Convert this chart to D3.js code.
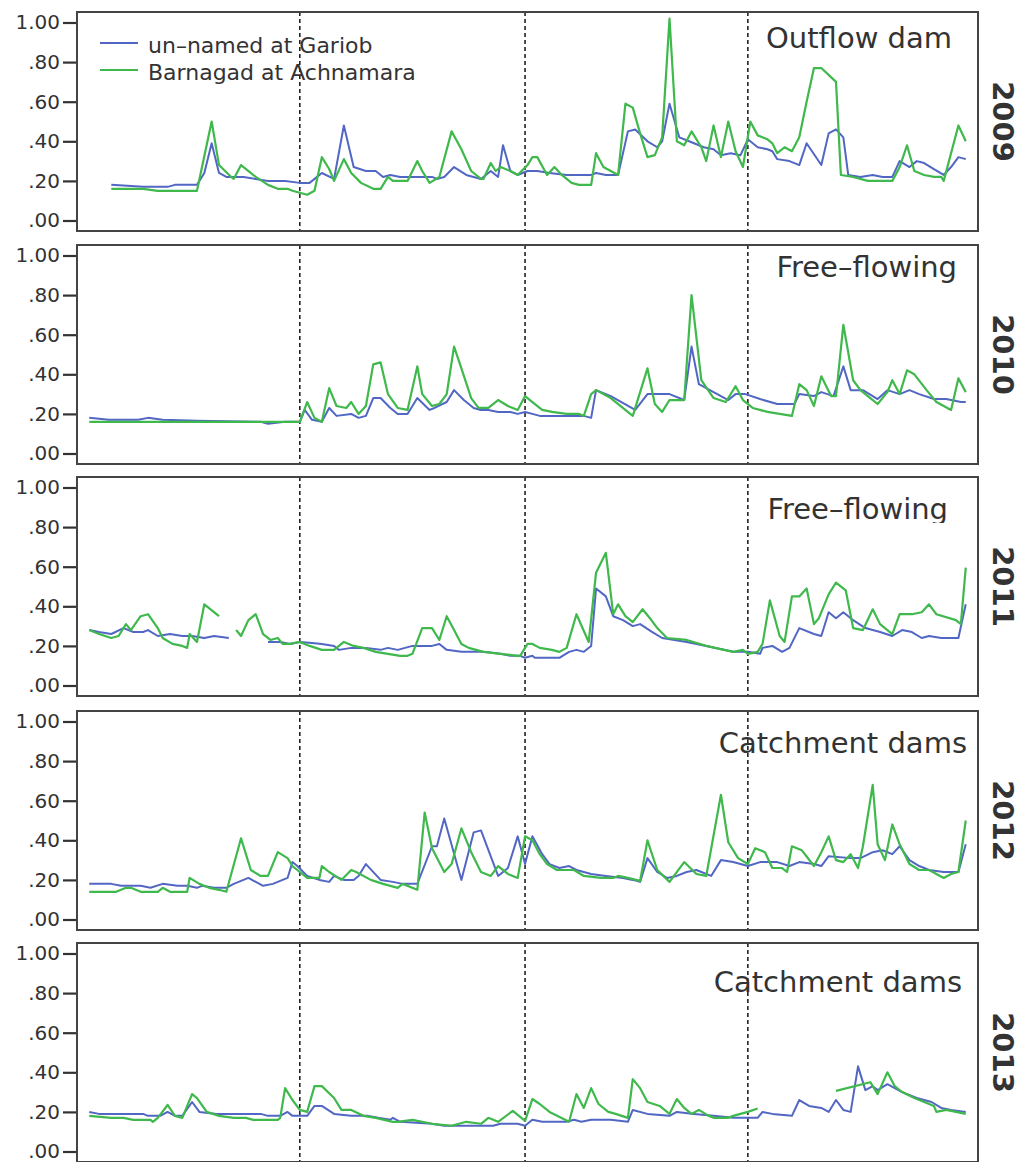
<!DOCTYPE html>
<html>
<head>
<meta charset="utf-8">
<script src="https://cdn.jsdelivr.net/npm/d3@7"></script>
<style>
  body { margin: 0; background: #fff; }
  svg { display: block; }
</style>
</head>
<body>
<svg id="chart" width="1028" height="1162"></svg>
<script>
// ---- data: day of year, relative value -----------------------------------
const years = ["2009", "2010", "2011", "2012", "2013"];
const panelTitles = ["Outflow dam", "Free\u2013flowing", "Free\u2013flowing", "Catchment dams", "Catchment dams"];
const seriesNames = ["un\u2013named at Gariob", "Barnagad at Achnamara"];
const yTicks = [0, 0.2, 0.4, 0.6, 0.8, 1.0];
const quarterDays = [91, 183, 274];

const gariob2009 = [[14,.18],[27,.17],[37,.17],[40,.18],[49,.18],[52,.24],[55,.39],[58,.24],[61,.22],[68,.22],[78,.20],[85,.20],[91,.19],[95,.19],[100,.24],[105,.21],[109,.48],[113,.27],[118,.25],[122,.25],[125,.22],[128,.23],[132,.22],[145,.22],[147,.21],[150,.22],[154,.27],[159,.23],[165,.21],[169,.25],[172,.22],[174,.38],[177,.25],[180,.23],[184,.25],[188,.25],[193,.24],[200,.23],[210,.23],[212,.24],[216,.23],[221,.23],[225,.45],[228,.46],[233,.40],[237,.37],[239,.40],[242,.59],[246,.42],[250,.40],[256,.37],[260,.36],[263,.33],[267,.34],[271,.33],[274,.41],[278,.37],[282,.36],[284,.35],[286,.31],[291,.30],[295,.28],[298,.39],[304,.28],[307,.44],[310,.46],[313,.42],[315,.23],[320,.22],[325,.23],[329,.22],[333,.22],[336,.30],[340,.27],[343,.30],[346,.29],[350,.26],[354,.23],[357,.27],[360,.32],[363,.31]];
const barnagad2009 = [[14,.16],[27,.16],[33,.15],[49,.15],[55,.50],[58,.28],[63,.22],[64,.21],[67,.28],[73,.22],[78,.18],[82,.16],[86,.16],[88,.15],[91,.14],[94,.13],[97,.15],[100,.32],[103,.26],[105,.20],[109,.31],[112,.24],[116,.19],[121,.16],[124,.16],[127,.22],[129,.20],[135,.20],[139,.30],[141,.25],[144,.19],[148,.22],[153,.45],[157,.36],[161,.25],[165,.21],[166,.21],[169,.29],[171,.25],[173,.27],[177,.25],[180,.23],[184,.28],[186,.32],[188,.32],[192,.23],[195,.27],[198,.23],[202,.19],[205,.18],[210,.18],[212,.34],[215,.27],[218,.25],[221,.23],[224,.59],[227,.57],[230,.44],[233,.32],[236,.33],[239,.42],[242,1.02],[245,.40],[248,.38],[251,.45],[255,.37],[257,.30],[260,.48],[263,.32],[266,.50],[269,.35],[272,.27],[275,.50],[278,.43],[282,.41],[284,.39],[286,.34],[289,.37],[292,.35],[295,.42],[298,.60],[301,.77],[304,.77],[310,.70],[312,.23],[317,.22],[323,.20],[333,.20],[336,.27],[339,.38],[342,.25],[346,.23],[350,.22],[353,.22],[354,.20],[360,.48],[363,.40]];

const gariob2010 = [[5,.18],[13,.17],[25,.17],[29,.18],[35,.17],[49,.165],[75,.16],[78,.15],[85,.16],[91,.16],[93,.22],[96,.17],[100,.16],[103,.23],[106,.19],[112,.20],[115,.18],[118,.19],[121,.28],[124,.28],[128,.23],[131,.20],[135,.20],[139,.28],[144,.22],[146,.23],[151,.26],[154,.32],[158,.27],[162,.23],[165,.22],[168,.22],[172,.21],[177,.21],[180,.20],[183,.21],[186,.20],[189,.19],[197,.19],[207,.19],[210,.18],[212,.32],[218,.29],[228,.22],[233,.30],[242,.30],[248,.27],[251,.54],[254,.35],[260,.31],[266,.27],[269,.30],[273,.30],[279,.275],[286,.25],[293,.25],[295,.30],[301,.29],[304,.31],[309,.29],[313,.44],[316,.32],[321,.32],[327,.275],[331,.32],[336,.30],[340,.32],[344,.30],[350,.275],[355,.275],[361,.26],[363,.26]];
const barnagad2010 = [[5,.16],[91,.16],[94,.26],[97,.18],[100,.16],[103,.33],[106,.24],[110,.23],[112,.26],[115,.20],[118,.24],[121,.45],[124,.46],[127,.30],[131,.23],[135,.22],[139,.44],[141,.30],[145,.24],[148,.25],[151,.30],[154,.54],[157,.43],[161,.28],[164,.23],[168,.23],[172,.27],[176,.24],[180,.22],[183,.29],[186,.26],[190,.22],[194,.21],[200,.20],[205,.20],[207,.19],[210,.30],[212,.32],[218,.28],[227,.19],[233,.43],[236,.25],[239,.21],[242,.27],[248,.27],[251,.80],[255,.37],[260,.28],[265,.26],[269,.34],[272,.27],[276,.23],[282,.21],[287,.20],[292,.19],[295,.35],[298,.32],[301,.24],[304,.39],[308,.29],[310,.29],[313,.65],[317,.37],[320,.32],[324,.28],[327,.25],[331,.31],[333,.37],[336,.30],[339,.42],[342,.40],[347,.32],[351,.26],[354,.24],[357,.22],[360,.38],[363,.31]];

const gariob2011 = [[5,.28],[9,.27],[14,.26],[19,.29],[23,.27],[27,.27],[29,.28],[33,.25],[38,.26],[43,.25],[47,.25],[52,.24],[56,.25],[62,.24],null,[78,.22],[83,.22],[87,.21],[91,.22],[96,.215],[100,.21],[105,.20],[107,.18],[112,.19],[118,.19],[124,.18],[127,.19],[131,.18],[137,.20],[145,.20],[148,.21],[151,.18],[157,.17],[166,.17],[173,.16],[177,.15],[181,.15],[183,.14],[186,.15],[187,.14],[197,.14],[201,.17],[204,.18],[207,.17],[210,.20],[212,.49],[216,.45],[219,.35],[223,.33],[227,.30],[230,.31],[235,.27],[239,.24],[249,.22],[257,.20],[268,.17],[274,.17],[279,.16],[280,.19],[284,.20],[288,.17],[291,.19],[295,.29],[301,.26],[304,.25],[307,.37],[310,.34],[313,.37],[317,.33],[322,.29],[328,.27],[333,.25],[337,.28],[341,.27],[345,.24],[348,.25],[353,.24],[360,.24],[363,.41]];
const barnagad2011 = [[5,.28],[9,.26],[14,.24],[17,.25],[20,.31],[22,.28],[26,.35],[29,.36],[33,.29],[35,.24],[39,.21],[43,.20],[45,.19],[46,.26],[49,.22],[52,.41],[58,.35],null,[65,.28],[67,.25],[70,.33],[73,.36],[76,.26],[79,.23],[82,.24],[84,.21],[87,.21],[91,.22],[95,.20],[100,.18],[105,.18],[109,.22],[113,.20],[117,.19],[122,.17],[127,.16],[132,.15],[135,.15],[137,.16],[141,.29],[145,.29],[148,.23],[151,.35],[154,.28],[157,.21],[160,.19],[166,.17],[173,.16],[180,.15],[181,.15],[184,.21],[186,.21],[189,.19],[194,.18],[197,.17],[200,.19],[204,.36],[209,.22],[212,.57],[216,.67],[219,.36],[221,.41],[224,.35],[227,.32],[231,.385],[234,.34],[237,.29],[241,.24],[249,.23],[257,.20],[268,.17],[272,.18],[274,.16],[278,.17],[280,.21],[283,.43],[287,.25],[289,.22],[292,.45],[295,.45],[298,.49],[301,.31],[303,.34],[307,.46],[310,.52],[314,.48],[317,.29],[321,.28],[325,.385],[328,.31],[333,.26],[336,.36],[341,.36],[345,.37],[348,.41],[351,.36],[359,.33],[361,.31],[363,.595]];

const gariob2012 = [[5,.18],[14,.18],[18,.17],[26,.17],[30,.16],[35,.18],[41,.17],[45,.17],[49,.16],[51,.17],[56,.16],[61,.16],[64,.18],[70,.21],[76,.17],[80,.18],[86,.21],[88,.29],[90,.27],[94,.22],[99,.20],[103,.19],[105,.22],[109,.20],[113,.20],[115,.22],[118,.28],[124,.20],[129,.19],[133,.18],[139,.18],[145,.37],[147,.37],[150,.51],[157,.20],[162,.44],[165,.45],[172,.22],[176,.26],[180,.42],[183,.28],[186,.42],[190,.33],[193,.28],[197,.26],[201,.27],[204,.25],[210,.23],[216,.22],[223,.21],[227,.20],[230,.19],[233,.31],[237,.24],[241,.21],[245,.22],[249,.24],[253,.25],[259,.22],[263,.30],[268,.29],[274,.27],[279,.29],[286,.29],[291,.27],[295,.29],[301,.28],[304,.27],[307,.32],[316,.31],[320,.31],[325,.34],[329,.35],[333,.33],[336,.37],[340,.30],[344,.27],[348,.25],[354,.24],[360,.24],[363,.38]];
const barnagad2012 = [[5,.14],[16,.14],[20,.16],[22,.16],[26,.14],[33,.14],[35,.16],[38,.14],[45,.14],[46,.21],[50,.18],[54,.16],[58,.15],[61,.14],[67,.41],[71,.25],[75,.22],[78,.22],[82,.34],[86,.31],[88,.27],[91,.24],[94,.21],[99,.21],[100,.27],[103,.24],[108,.20],[112,.25],[114,.24],[120,.20],[125,.18],[131,.16],[133,.18],[139,.15],[142,.54],[145,.36],[150,.24],[153,.28],[157,.46],[161,.34],[165,.24],[169,.22],[172,.27],[176,.23],[180,.21],[183,.42],[186,.40],[189,.33],[192,.28],[196,.25],[200,.25],[203,.25],[207,.22],[214,.21],[219,.21],[221,.22],[225,.21],[230,.195],[233,.40],[237,.25],[242,.19],[248,.29],[253,.23],[257,.22],[263,.63],[266,.39],[270,.31],[274,.28],[277,.36],[281,.34],[284,.26],[288,.26],[290,.24],[292,.37],[296,.35],[301,.27],[304,.34],[307,.42],[310,.30],[313,.29],[316,.33],[319,.26],[321,.37],[325,.68],[327,.38],[330,.30],[333,.48],[336,.38],[340,.28],[344,.25],[348,.25],[351,.23],[354,.21],[357,.23],[360,.24],[363,.50]];

const gariob2013 = [[5,.20],[9,.19],[27,.19],[29,.18],[34,.18],[37,.20],[40,.18],[43,.18],[47,.25],[50,.20],[57,.19],[75,.19],[78,.18],[83,.18],[86,.20],[88,.18],[94,.18],[97,.23],[100,.23],[105,.19],[112,.18],[119,.18],[123,.17],[128,.16],[129,.17],[132,.15],[145,.14],[150,.13],[170,.13],[173,.14],[180,.14],[183,.13],[186,.16],[190,.15],[200,.15],[203,.16],[206,.15],[210,.16],[218,.16],[225,.15],[227,.21],[233,.19],[242,.18],[245,.20],[252,.19],[260,.18],[268,.17],[278,.17],[280,.20],[284,.19],[292,.18],[295,.26],[299,.23],[304,.22],[307,.20],[310,.26],[313,.21],[316,.20],[319,.43],[322,.31],[325,.33],[327,.31],[331,.34],[334,.32],[337,.30],[343,.27],[349,.25],[353,.22],[357,.21],[363,.20]];
const barnagad2013 = [[5,.18],[14,.17],[19,.17],[23,.16],[30,.16],[31,.15],[33,.17],[37,.235],[40,.18],[43,.17],[47,.29],[49,.27],[53,.20],[58,.18],[64,.17],[69,.17],[72,.16],[82,.16],[83,.17],[85,.32],[88,.26],[91,.21],[94,.20],[97,.33],[100,.33],[105,.27],[108,.21],[112,.21],[117,.18],[122,.17],[129,.15],[131,.15],[137,.16],[145,.14],[153,.13],[156,.14],[159,.15],[165,.14],[168,.17],[172,.15],[178,.205],[183,.155],[186,.265],[189,.24],[193,.20],[201,.15],[204,.29],[207,.22],[210,.32],[213,.24],[217,.20],[220,.19],[225,.17],[227,.365],[230,.32],[233,.25],[238,.23],[242,.19],[245,.265],[248,.22],[251,.19],[254,.21],[258,.18],[260,.17],[266,.17],[268,.18],[274,.20],[278,.217],null,[310,.306],[324,.35],[327,.29],[331,.40],[334,.33],[337,.30],[342,.27],[346,.25],[350,.23],[351,.20],[355,.21],[363,.19]];

const panelSeries = [
  [gariob2009, barnagad2009],
  [gariob2010, barnagad2010],
  [gariob2011, barnagad2011],
  [gariob2012, barnagad2012],
  [gariob2013, barnagad2013]
];

// ---- layout ---------------------------------------------------------------
const frameLeft = 77, frameRight = 978, panelH = 219;
const panelTops = [12, 245, 477, 711, 943];
const titleRight = [952, 957, 948, 967, 962];
const titleBaseline = [36, 32, 42, 42, 49];
const titleClipBottom = [null, null, 46, null, null];
const colors = ["#5266c4", "#3fb84c"];
const font = "'DejaVu Sans', Verdana, sans-serif";
const inkColor = "#333";

const svg = d3.select("#chart");
const defs = svg.append("defs");
const x = d3.scaleLinear().domain([0, 368]).range([frameLeft, frameRight]);
const fmt = v => d3.format(".2f")(v).replace(/^0/, "");

years.forEach((year, i) => {
  const top = panelTops[i];
  const y = d3.scaleLinear().domain([-0.053, 1.053]).range([top + panelH, top]);
  const g = svg.append("g").attr("class", "panel");

  // quarter dividers
  g.selectAll("line.divider").data(quarterDays).join("line")
    .attr("class", "divider")
    .attr("x1", d => x(d)).attr("x2", d => x(d))
    .attr("y1", top).attr("y2", top + panelH)
    .attr("stroke", "#222").attr("stroke-width", 1.6)
    .attr("stroke-dasharray", "4,3");

  // series
  const line = d3.line()
    .defined(d => d !== null)
    .x(d => x(d[0]))
    .y(d => y(d[1]));
  panelSeries[i].forEach((s, k) => {
    g.append("path").datum(s)
      .attr("d", line)
      .attr("fill", "none")
      .attr("stroke", colors[k])
      .attr("stroke-width", k === 1 ? 2.2 : 2)
      .attr("stroke-linejoin", "round");
  });

  // frame
  g.append("rect")
    .attr("x", frameLeft).attr("y", top)
    .attr("width", frameRight - frameLeft).attr("height", panelH)
    .attr("fill", "none").attr("stroke", "#444").attr("stroke-width", 2);

  // y axis
  const axis = d3.axisLeft(y).tickValues(yTicks).tickSize(13).tickPadding(3).tickFormat(fmt);
  const ax = g.append("g").attr("transform", `translate(${frameLeft - 1},0)`).call(axis);
  ax.select(".domain").remove();
  ax.selectAll(".tick line").attr("stroke", inkColor).attr("stroke-width", 2.2);
  ax.selectAll(".tick text")
    .attr("fill", inkColor)
    .style("font-family", font).style("font-size", "20px");

  // panel title (the 2011 label box cuts its descenders)
  const title = g.append("text")
    .attr("x", titleRight[i]).attr("y", top + titleBaseline[i])
    .attr("text-anchor", "end")
    .attr("fill", inkColor)
    .style("font-family", font).style("font-size", "29px")
    .text(panelTitles[i]);
  if (titleClipBottom[i] !== null) {
    const id = `title-clip-${i}`;
    defs.append("clipPath").attr("id", id)
      .append("rect")
      .attr("x", frameLeft).attr("y", top)
      .attr("width", frameRight - frameLeft).attr("height", titleClipBottom[i]);
    title.attr("clip-path", `url(#${id})`);
  }

  // year label
  g.append("text")
    .attr("transform", `translate(1003,${top + panelH / 2}) rotate(90)`)
    .attr("text-anchor", "middle")
    .attr("dominant-baseline", "central")
    .attr("fill", inkColor)
    .style("font-family", font).style("font-size", "29px").style("font-weight", "bold")
    .text(year);
});

// legend (first panel)
const legend = svg.append("g").attr("class", "legend");
seriesNames.forEach((name, k) => {
  const ly = 43 + k * 27;
  legend.append("line")
    .attr("x1", 100).attr("x2", 138).attr("y1", ly).attr("y2", ly)
    .attr("stroke", colors[k]).attr("stroke-width", 2.2);
  legend.append("text")
    .attr("x", 148).attr("y", ly + 10)
    .attr("fill", inkColor)
    .style("font-family", font).style("font-size", "22px")
    .text(name);
});
</script>
</body>
</html>
